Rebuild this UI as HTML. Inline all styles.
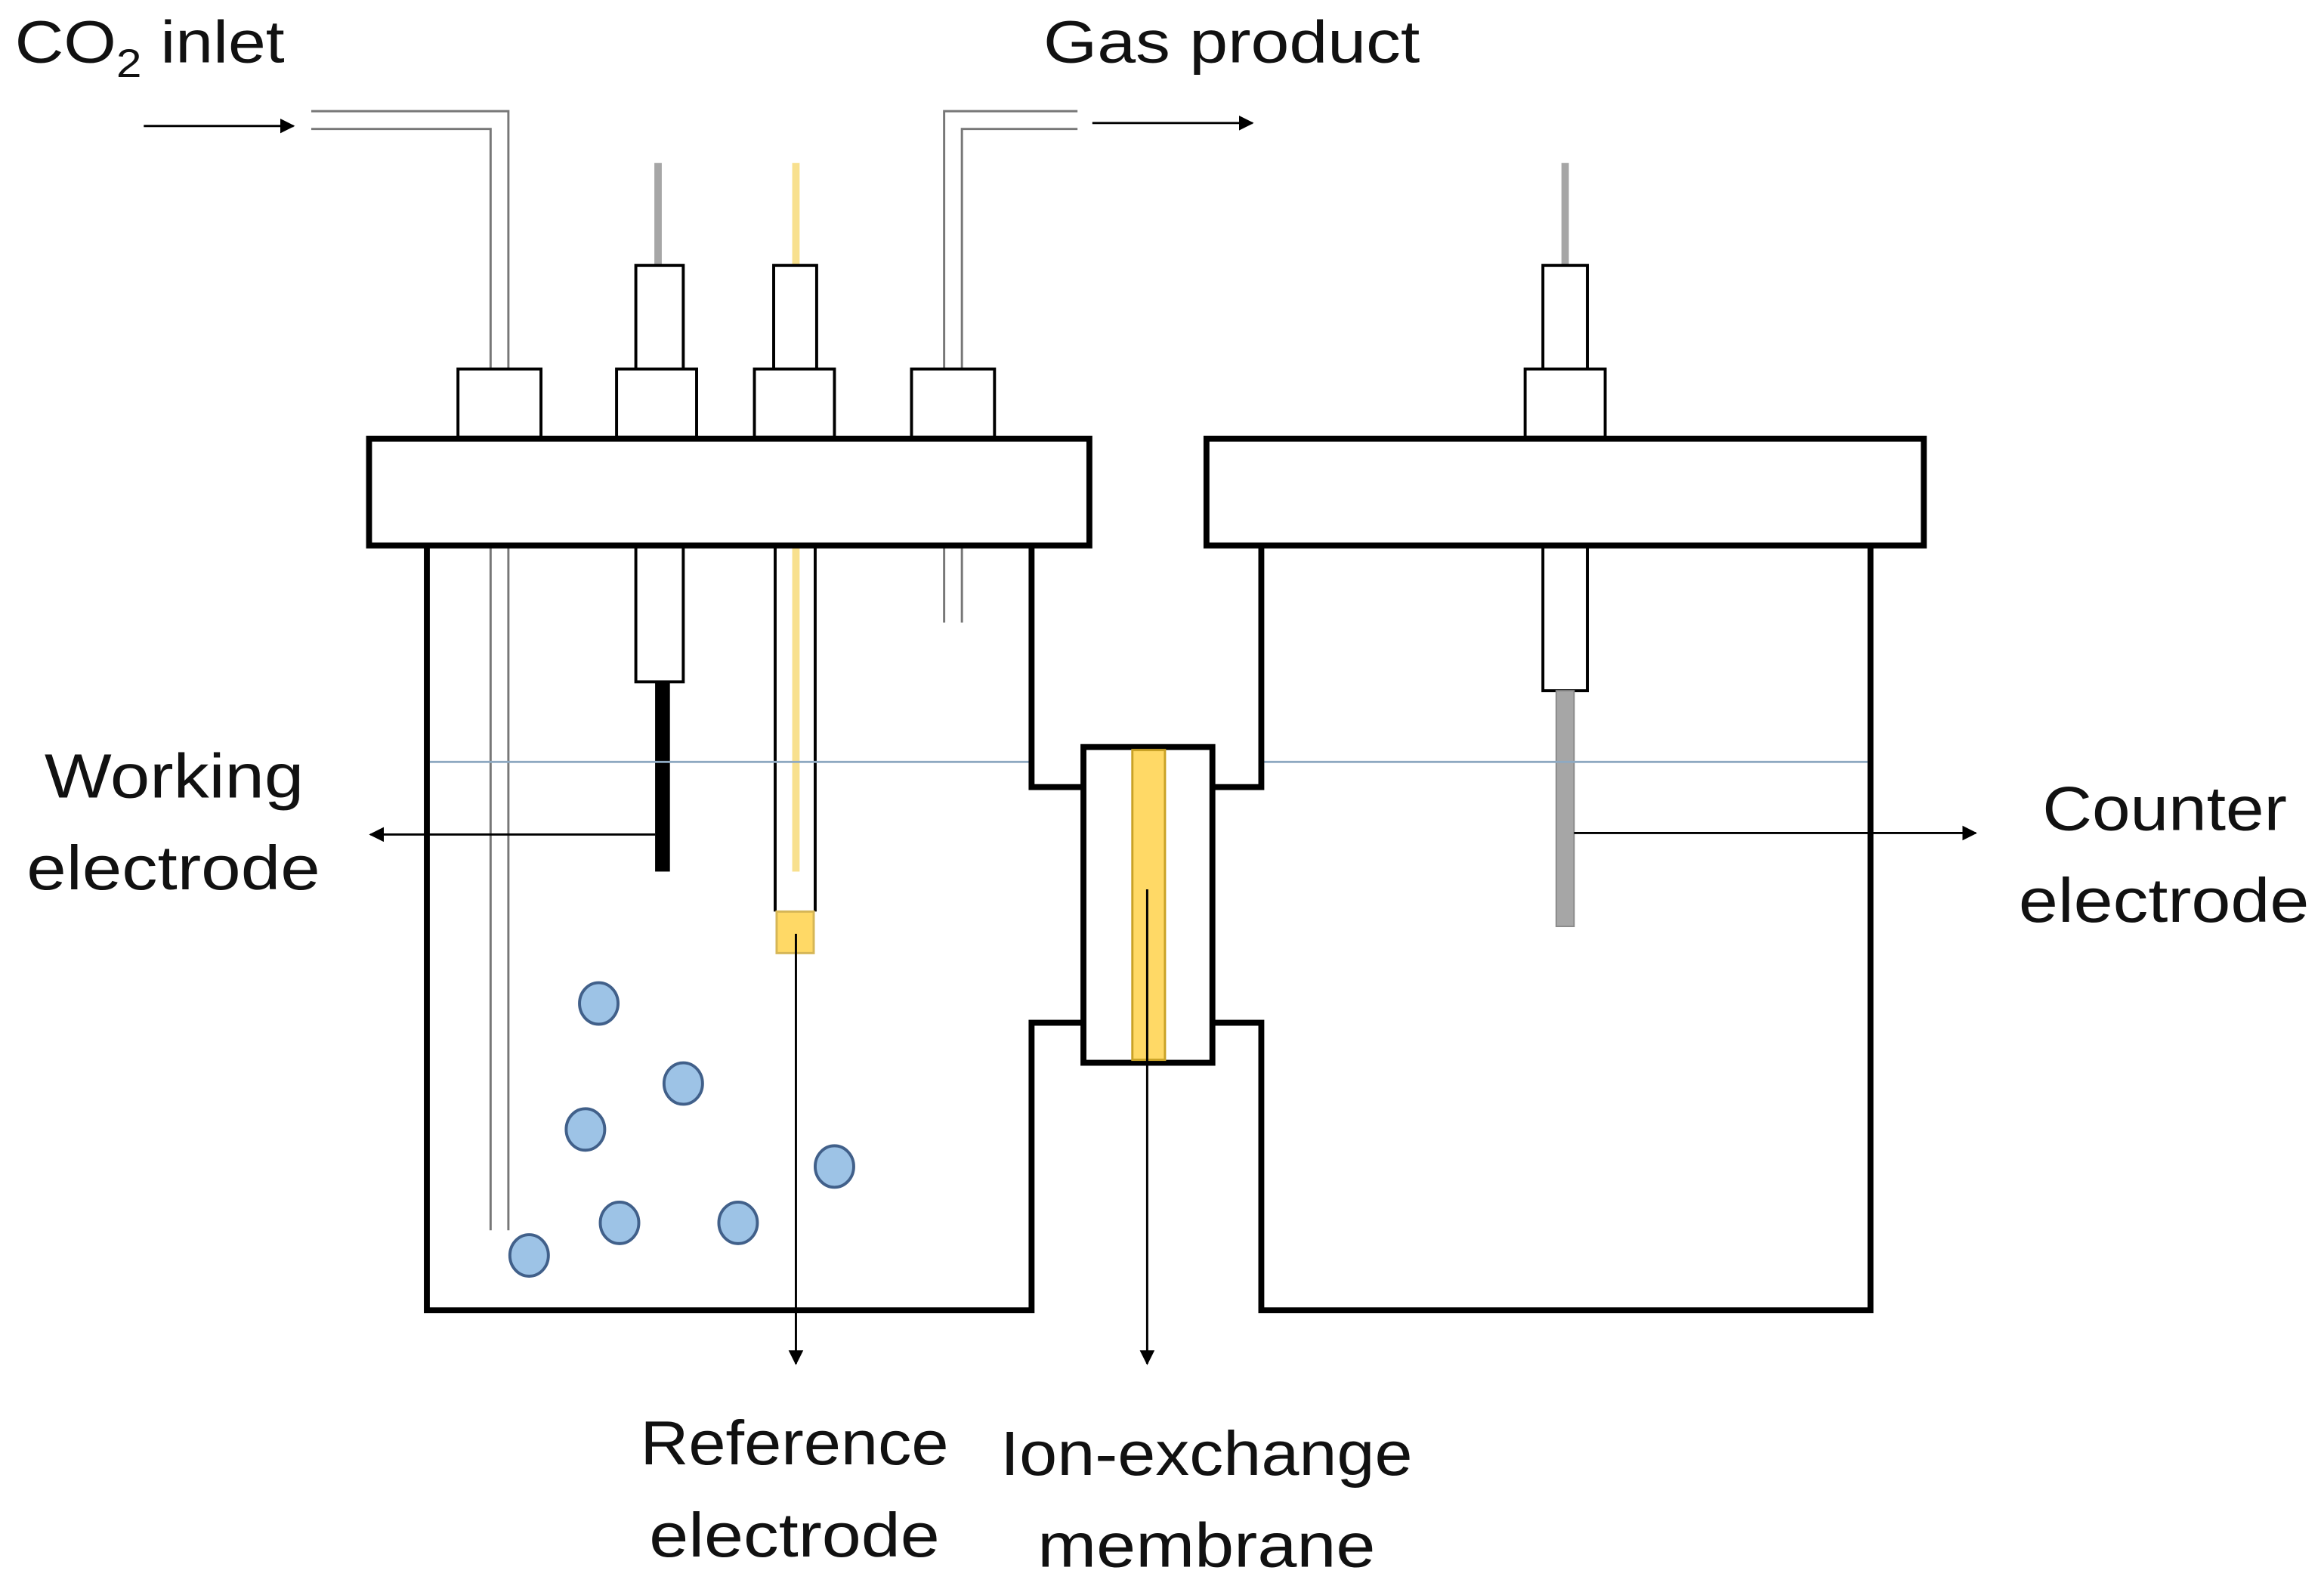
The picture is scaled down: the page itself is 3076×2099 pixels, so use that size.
<!DOCTYPE html>
<html><head><meta charset="utf-8"><style>
html,body{margin:0;padding:0;background:#fff;}
svg{display:block;}
text{font-family:"Liberation Sans",sans-serif;fill:#111;}
</style></head><body>
<svg width="3076" height="2099" viewBox="0 0 1568 1070" preserveAspectRatio="none" xmlns="http://www.w3.org/2000/svg">
<defs>
<marker id="ah" markerWidth="10" markerHeight="10" refX="9" refY="5" orient="auto" markerUnits="userSpaceOnUse">
<path d="M0,0 L10,5 L0,10 Z" fill="#000"/></marker>
</defs>
<rect width="1568" height="1070" fill="#fff"/>
<!-- labels -->
<text x="10" y="42" font-size="40" textLength="182" lengthAdjust="spacingAndGlyphs">CO<tspan font-size="27" dy="10">2</tspan><tspan dy="-10"> inlet</tspan></text>
<text x="704" y="42" font-size="40" textLength="254" lengthAdjust="spacingAndGlyphs">Gas product</text>
<text x="30" y="538" font-size="42" textLength="175" lengthAdjust="spacingAndGlyphs">Working</text>
<text x="18" y="600" font-size="42" textLength="198" lengthAdjust="spacingAndGlyphs">electrode</text>
<text x="1378" y="560" font-size="42" textLength="165" lengthAdjust="spacingAndGlyphs">Counter</text>
<text x="1362" y="622" font-size="42" textLength="196" lengthAdjust="spacingAndGlyphs">electrode</text>
<text x="432" y="988" font-size="42" textLength="208" lengthAdjust="spacingAndGlyphs">Reference</text>
<text x="438" y="1050" font-size="42" textLength="196" lengthAdjust="spacingAndGlyphs">electrode</text>
<text x="675" y="995" font-size="42" textLength="278" lengthAdjust="spacingAndGlyphs">Ion-exchange</text>
<text x="700" y="1057" font-size="42" textLength="228" lengthAdjust="spacingAndGlyphs">membrane</text>

<!-- inlet/outlet arrows -->
<line x1="97" y1="85" x2="198" y2="85" stroke="#000" stroke-width="1.5" marker-end="url(#ah)"/>
<line x1="737" y1="83" x2="845" y2="83" stroke="#000" stroke-width="1.5" marker-end="url(#ah)"/>

<!-- gas tubes -->
<g fill="none" stroke="#777" stroke-width="1.5">
<polyline points="210,75 343,75 343,830"/>
<polyline points="210,87 331,87 331,830"/>
<polyline points="727,75 637,75 637,420"/>
<polyline points="727,87 649,87 649,420"/>
</g>

<!-- wires above -->
<line x1="444" y1="110" x2="444" y2="179" stroke="#a6a6a6" stroke-width="5"/>
<line x1="537" y1="110" x2="537" y2="179" stroke="#f8e08e" stroke-width="5"/>
<line x1="1056" y1="110" x2="1056" y2="179" stroke="#a6a6a6" stroke-width="5"/>

<g fill="#fff" stroke="#000" stroke-width="2">
<rect x="429" y="179" width="32" height="70"/>
<rect x="522" y="179" width="29" height="70"/>
<rect x="1041" y="179" width="30" height="70"/>
<rect x="309" y="249" width="56" height="46"/>
<rect x="416" y="249" width="54" height="46"/>
<rect x="509" y="249" width="54" height="46"/>
<rect x="615" y="249" width="56" height="46"/>
<rect x="1029" y="249" width="54" height="46"/>
</g>

<!-- electrodes below lid -->
<rect x="429" y="368" width="32" height="92" fill="#fff" stroke="#000" stroke-width="2"/>
<rect x="442" y="460" width="10" height="128" fill="#000"/>
<line x1="523" y1="368" x2="523" y2="615" stroke="#000" stroke-width="2"/>
<line x1="550" y1="368" x2="550" y2="615" stroke="#000" stroke-width="2"/>
<line x1="537" y1="368" x2="537" y2="588" stroke="#f8e08e" stroke-width="5"/>
<rect x="524" y="615" width="25" height="28" fill="#ffd966" stroke="#d6b656" stroke-width="1.5"/>
<rect x="1041" y="368" width="30" height="98" fill="#fff" stroke="#000" stroke-width="2"/>
<rect x="1050" y="466" width="12" height="159" fill="#a6a6a6" stroke="#8a8a8a" stroke-width="1"/>

<!-- liquid line -->
<line x1="290" y1="514" x2="696" y2="514" stroke="#8ea9c1" stroke-width="1.5"/>
<line x1="851" y1="514" x2="1260" y2="514" stroke="#8ea9c1" stroke-width="1.5"/>

<!-- cell walls -->
<g fill="none" stroke="#000" stroke-width="4">
<polyline points="288,368 288,884 696,884 696,690 731,690"/>
<polyline points="696,368 696,531 731,531"/>
<polyline points="818,531 851,531 851,368"/>
<polyline points="818,690 851,690 851,884 1262,884 1262,368"/>
</g>

<!-- lids -->
<rect x="249" y="296" width="486" height="72" fill="#fff" stroke="#000" stroke-width="4"/>
<rect x="814" y="296" width="484" height="72" fill="#fff" stroke="#000" stroke-width="4"/>

<!-- membrane -->
<rect x="731" y="504" width="87" height="213" fill="#fff" stroke="#000" stroke-width="4"/>
<rect x="764" y="506" width="22" height="209" fill="#ffd966" stroke="#c9a227" stroke-width="1.5"/>

<!-- bubbles -->
<g fill="#9dc3e6" stroke="#41608a" stroke-width="2">
<ellipse cx="404" cy="677" rx="13" ry="14"/>
<ellipse cx="461" cy="731" rx="13" ry="14"/>
<ellipse cx="395" cy="762" rx="13" ry="14"/>
<ellipse cx="563" cy="787" rx="13" ry="14"/>
<ellipse cx="418" cy="825" rx="13" ry="14"/>
<ellipse cx="498" cy="825" rx="13" ry="14"/>
<ellipse cx="357" cy="847" rx="13" ry="14"/>
</g>

<!-- pointer arrows -->
<line x1="442" y1="563" x2="250" y2="563" stroke="#000" stroke-width="1.5" marker-end="url(#ah)"/>
<line x1="1062" y1="562" x2="1333" y2="562" stroke="#000" stroke-width="1.5" marker-end="url(#ah)"/>
<line x1="537" y1="630" x2="537" y2="920" stroke="#000" stroke-width="1.5" marker-end="url(#ah)"/>
<line x1="774" y1="600" x2="774" y2="920" stroke="#000" stroke-width="1.5" marker-end="url(#ah)"/>
</svg>
</body></html>
